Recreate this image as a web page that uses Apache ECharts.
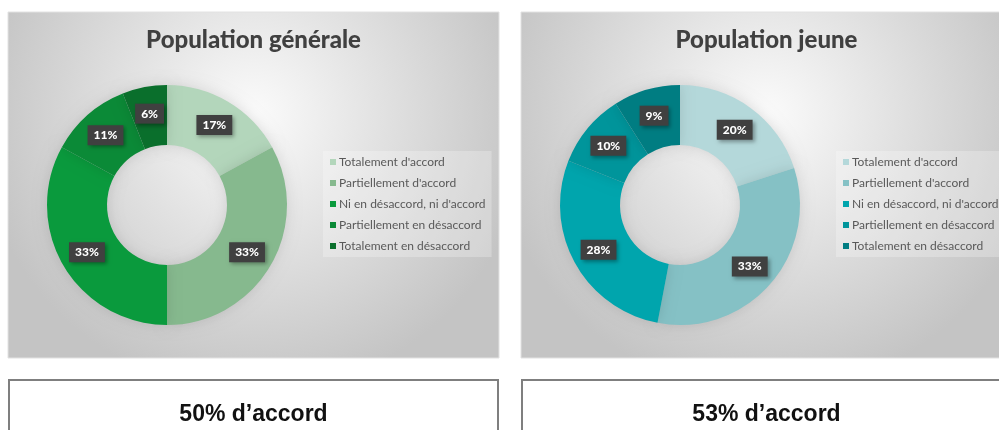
<!DOCTYPE html>
<html>
<head>
<meta charset="utf-8">
<script src="https://cdn.jsdelivr.net/npm/echarts@6/dist/echarts.min.js"></script>
<style>
  html, body { margin: 0; padding: 0; background: #fff; overflow: hidden; }
  #left, #right { position: absolute; top: 0; height: 430px; }
  #left { left: 0; width: 510px; }
  #right { left: 510px; width: 489px; }
</style>
</head>
<body>
<div id="left"></div>
<div id="right"></div>
<script>
const categories = [
  "Totalement d'accord",
  "Partiellement d'accord",
  'Ni en désaccord, ni d\'accord',
  'Partiellement en désaccord',
  'Totalement en désaccord'
]
const generalValues = [17, 33, 33, 11, 6]
const youngValues = [20, 33, 28, 10, 9]
const generalColors = ['#b3d6bb', '#86b98e', '#0a9a3d', '#0b8a37', '#0a6f2c']
const youngColors = ['#b4d8da', '#85c1c5', '#00a5ad', '#00959b', '#007d82']
const titles = ['Population générale', 'Population jeune']
const summaries = ['50% d\u2019accord', '53% d\u2019accord']

function buildOption(ox, title, summary, values, colors) {
  const W = 491
  // title boxes carry 5px padding, so pull the anchor back by that much
  const cx = ox + W / 2 - 5
  return {
    animation: false,
    title: [
      {
        text: title,
        left: cx, top: 23, textAlign: 'center',
        textStyle: { fontFamily: 'Lato, "Open Sans", sans-serif', fontSize: 24, fontWeight: 900, color: '#404040' }
      },
      {
        text: summary,
        left: cx, top: 398, textAlign: 'center',
        textStyle: { fontFamily: '"Liberation Sans", Arial, sans-serif', fontSize: 23, fontWeight: 'bold', color: '#111' }
      }
    ],
    graphic: [
      {
        type: 'rect', z: -10, silent: true,
        shape: { x: ox, y: 12, width: W, height: 346 },
        style: {
          fill: {
            type: 'radial', x: 0.5, y: 0.3, r: 0.8,
            colorStops: [
              { offset: 0, color: '#fbfbfb' },
              { offset: 1, color: '#c4c4c4' }
            ]
          },
          stroke: '#e2e2e2', lineWidth: 1
        }
      },
      {
        type: 'rect', z: -10, silent: true,
        shape: { x: ox + 1, y: 380, width: W - 2, height: 80 },
        style: { fill: '#fff', stroke: '#7f7f7f', lineWidth: 2 }
      }
    ],
    legend: {
      orient: 'vertical',
      left: ox + 315, top: 151,
      data: categories,
      icon: 'rect', itemWidth: 6, itemHeight: 6, itemGap: 9,
      padding: [5, 6, 5, 7],
      backgroundColor: 'rgba(255,255,255,0.25)',
      textStyle: { fontFamily: 'Lato, "Open Sans", sans-serif', fontSize: 12, lineHeight: 12, color: '#595959', padding: [0, 0, 0, -2] }
    },
    series: [{
      type: 'pie',
      center: [ox + 159, 205],
      radius: [60, 120],
      startAngle: 90,
      clockwise: true,
      color: colors,
      itemStyle: { borderWidth: 0, shadowBlur: 14, shadowColor: 'rgba(0,0,0,0.12)' },
      label: {
        show: true,
        position: 'inside',
        formatter: '{c}%',
        fontFamily: 'Lato, "Open Sans", sans-serif',
        fontSize: 12, fontWeight: 900, color: '#fff',
        backgroundColor: '#404040',
        padding: [4, 6, 4, 6],
        shadowBlur: 4, shadowOffsetX: 2, shadowOffsetY: 2, shadowColor: 'rgba(0,0,0,0.35)'
      },
      labelLine: { show: false },
      emphasis: { disabled: true },
      data: categories.map((name, i) => ({ name, value: values[i] }))
    }]
  }
}

const left = echarts.init(document.getElementById('left'), null, { renderer: 'canvas' })
left.setOption(buildOption(8, titles[0], summaries[0], generalValues, generalColors))

const right = echarts.init(document.getElementById('right'), null, { renderer: 'canvas' })
right.setOption(buildOption(11, titles[1], summaries[1], youngValues, youngColors))
</script>
</body>
</html>
